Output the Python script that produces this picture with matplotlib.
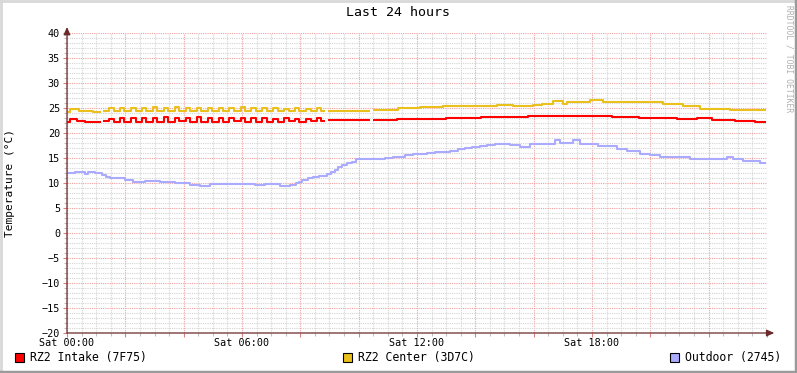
import numpy as np
import matplotlib
matplotlib.use('Agg')
import matplotlib.pyplot as plt
from matplotlib.patches import Rectangle
from matplotlib.lines import Line2D
from matplotlib.ticker import MultipleLocator

nan = np.nan

# hours since Sat 00:00, step values (NaN = gap in data)
intake_hours = [0.0, 0.1, 0.35, 0.6, 1.15, 1.22,
                1.45, 1.60, 1.82, 1.97, 2.20, 2.35, 2.57, 2.72, 2.95, 3.10,
                3.32, 3.47, 3.70, 3.85, 4.07, 4.22, 4.45, 4.60, 4.82, 4.97,
                5.20, 5.35, 5.57, 5.72, 5.95, 6.10, 6.32, 6.47, 6.70, 6.85,
                7.07, 7.22, 7.45, 7.60, 7.82, 7.97, 8.20, 8.35, 8.57, 8.72,
                8.85, 8.95, 10.40, 10.50, 11.30, 12.00, 13.00, 14.20, 15.80,
                18.70, 19.60, 20.90, 21.60, 22.10, 22.90, 23.60, 23.96]
intake_temp = [22.3, 22.8, 22.4, 22.3, nan, 22.5,
               22.9, 22.3, 23.0, 22.3, 23.1, 22.3, 23.0, 22.2, 23.1, 22.3,
               23.2, 22.3, 23.1, 22.4, 23.0, 22.3, 23.2, 22.3, 23.1, 22.3,
               23.0, 22.3, 23.1, 22.4, 23.0, 22.3, 23.1, 22.3, 23.0, 22.3,
               22.9, 22.3, 23.0, 22.4, 22.9, 22.3, 22.9, 22.4, 23.1, 22.5,
               nan, 22.6, nan, 22.7, 22.8, 22.9, 23.1, 23.3, 23.5,
               23.3, 23.1, 22.9, 23.1, 22.7, 22.5, 22.2, 22.2]

center_hours = [0.0, 0.1, 0.4, 0.9, 1.15, 1.22,
                1.45, 1.60, 1.82, 1.97, 2.20, 2.35, 2.57, 2.72, 2.95, 3.10,
                3.32, 3.47, 3.70, 3.85, 4.07, 4.22, 4.45, 4.60, 4.82, 4.97,
                5.20, 5.35, 5.57, 5.72, 5.95, 6.10, 6.32, 6.47, 6.70, 6.85,
                7.07, 7.22, 7.45, 7.60, 7.82, 7.97, 8.20, 8.35, 8.57, 8.72,
                8.85, 8.95, 10.40, 10.50, 11.35, 11.76, 12.10, 12.90, 14.74,
                15.29, 15.98, 16.30, 16.66, 17.00, 17.14, 17.93, 18.37, 20.43,
                21.12, 21.70, 22.73, 23.96]
center_temp = [24.3, 24.8, 24.4, 24.2, nan, 24.5,
               25.0, 24.4, 25.0, 24.5, 25.1, 24.4, 25.0, 24.4, 25.2, 24.5,
               25.1, 24.4, 25.3, 24.5, 25.0, 24.4, 25.1, 24.5, 25.0, 24.4,
               25.1, 24.5, 25.0, 24.4, 25.2, 24.5, 25.0, 24.4, 25.1, 24.5,
               25.0, 24.4, 24.9, 24.5, 25.0, 24.4, 24.9, 24.5, 25.0, 24.5,
               nan, 24.5, nan, 24.7, 25.0, 25.1, 25.3, 25.5, 25.7,
               25.5, 25.7, 25.9, 26.4, 25.9, 26.3, 26.6, 26.3, 25.8,
               25.4, 24.9, 24.6, 24.6]

outdoor_hours = [0.0, 0.27, 0.62, 0.72, 0.96, 1.2, 1.35, 1.47, 2.0, 2.26, 2.67,
                 3.19, 3.7, 4.22, 4.56, 4.9, 5.59, 6.1, 6.45, 6.79, 7.3,
                 7.64, 7.85, 7.95, 8.06, 8.25, 8.43, 8.65, 8.91, 9.05, 9.19,
                 9.3, 9.43, 9.6, 9.77, 9.91, 10.9, 11.18,
                 11.59, 11.85, 12.1, 12.35, 12.62, 12.9, 13.13, 13.4, 13.64,
                 13.9, 14.16, 14.4, 14.67, 15.19, 15.53,
                 15.87, 16.73, 16.9, 17.35, 17.59, 18.2, 18.86, 19.2, 19.64,
                 20.0, 20.33, 21.36, 22.63, 22.83, 23.17, 23.76, 23.96]
outdoor_temp = [12.0, 12.2, 11.8, 12.2, 12.0, 11.6, 11.3, 11.0, 10.7, 10.2, 10.4,
                10.2, 10.0, 9.7, 9.5, 9.9, 9.8, 9.9, 9.6, 9.8, 9.5,
                9.7, 10.0, 10.3, 10.6, 11.0, 11.3, 11.5, 11.9, 12.3, 12.7,
                13.2, 13.6, 14.0, 14.3, 14.8, 15.1, 15.3,
                15.6, 15.8, 15.9, 16.1, 16.2, 16.3, 16.5, 16.8, 17.0,
                17.3, 17.5, 17.7, 17.8, 17.6, 17.3,
                17.9, 18.6, 18.1, 18.6, 17.8, 17.5, 16.9, 16.5, 15.9,
                15.6, 15.3, 14.9, 15.3, 14.9, 14.4, 14.1, 14.1]

series_names = ['RZ2 Intake (7F75)', 'RZ2 Center (3D7C)', 'Outdoor (2745)']
series_colors = ['#ff0000', '#eac01c', '#aaaaff']
x_tick_hours = [0, 6, 12, 18]
x_tick_labels = ['Sat 00:00', 'Sat 06:00', 'Sat 12:00', 'Sat 18:00']

MONO = 'DejaVu Sans Mono'
W, H = 797, 373


def px(x, y):
    # pixel coords (from top-left) -> figure fraction
    return x / W, 1 - y / H


def main():
    fig = plt.figure(figsize=(W / 100, H / 100), dpi=100)
    fig.patch.set_facecolor('white')
    ax = fig.add_axes([67 / W, 40 / H, 700 / W, 300 / H])
    ax.set_facecolor('white')
    ax.set_xlim(0, 24)
    ax.set_ylim(-20, 40)

    # grid
    ax.xaxis.set_major_locator(MultipleLocator(2))
    ax.xaxis.set_minor_locator(MultipleLocator(0.5))
    ax.yaxis.set_major_locator(MultipleLocator(5))
    ax.yaxis.set_minor_locator(MultipleLocator(1))
    ax.grid(which='minor', color='#d4d4d4', linestyle=(0, (1, 1)), linewidth=0.8)
    ax.grid(which='major', color='#f0a0a0', linestyle=(0, (1, 1)), linewidth=0.8)
    ax.set_axisbelow(True)
    ax.set_xticklabels([])
    for s in ax.spines.values():
        s.set_visible(False)
    ax.tick_params(which='major', length=3, width=0.8, color='#e08080', pad=2)
    ax.tick_params(which='minor', length=2, width=0.8, color='#c0c0c0')
    ax.tick_params(axis='y', labelsize=7.3)
    for lab in ax.get_yticklabels():
        lab.set_fontfamily(MONO)

    for i, h in enumerate(x_tick_hours):
        ax.text(h, -20.9, x_tick_labels[i], ha='center', va='top',
                fontsize=7.3, family=MONO, clip_on=False)

    data = [(intake_hours, intake_temp), (center_hours, center_temp),
            (outdoor_hours, outdoor_temp)]
    for (hrs, vals), c in zip(data, series_colors):
        ax.step(hrs, vals, where='post', color=c, linewidth=1.5,
                solid_capstyle='butt', zorder=3)

    # axes with arrows
    axis_col = '#6a2a2a'
    ax.annotate('', xy=(24.25, -20), xytext=(0, -20), annotation_clip=False,
                arrowprops=dict(arrowstyle='-|>,head_length=0.45,head_width=0.2',
                                color=axis_col, lw=0.9, shrinkA=0, shrinkB=0))
    ax.annotate('', xy=(0, 41.2), xytext=(0, -20), annotation_clip=False,
                arrowprops=dict(arrowstyle='-|>,head_length=0.45,head_width=0.2',
                                color=axis_col, lw=0.9, shrinkA=0, shrinkB=0))

    # title and labels
    fig.text(*px(398, 13), 'Last 24 hours', ha='center', va='center',
             fontsize=9.5, family=MONO)
    fig.text(*px(10, 183), 'Temperature (°C)', ha='center', va='center',
             rotation=90, fontsize=8, family=MONO)
    fig.text(*px(789, 5), 'RRDTOOL / TOBI OETIKER', ha='center', va='top',
             rotation=270, fontsize=5.8, family=MONO, color='#b0b0b0')

    # legend
    for (lx, name), c in zip([(15, series_names[0]), (343, series_names[1]),
                              (670, series_names[2])], series_colors):
        x0, y0 = px(lx, 362)
        fig.patches.append(Rectangle((x0, y0), 9 / W, 9 / H, transform=fig.transFigure,
                                     facecolor=c, edgecolor='black', linewidth=0.8))
        fig.text(*px(lx + 15, 358), name, ha='left', va='center',
                 fontsize=8.3, family=MONO)

    # frame around canvas
    fig.lines.append(Line2D([0, 1], [1 - 1 / H, 1 - 1 / H], transform=fig.transFigure,
                            color='#d8d8d8', linewidth=2))
    fig.lines.append(Line2D([1 / W, 1 / W], [0, 1], transform=fig.transFigure,
                            color='#d8d8d8', linewidth=2))
    fig.lines.append(Line2D([1 - 1.5 / W, 1 - 1.5 / W], [0, 1], transform=fig.transFigure,
                            color='#9a9a9a', linewidth=2.5))
    fig.lines.append(Line2D([0, 1], [1.5 / H, 1.5 / H], transform=fig.transFigure,
                            color='#9a9a9a', linewidth=2.5))

    fig.savefig('out.png', dpi=100, facecolor=fig.get_facecolor())


if __name__ == '__main__':
    main()
